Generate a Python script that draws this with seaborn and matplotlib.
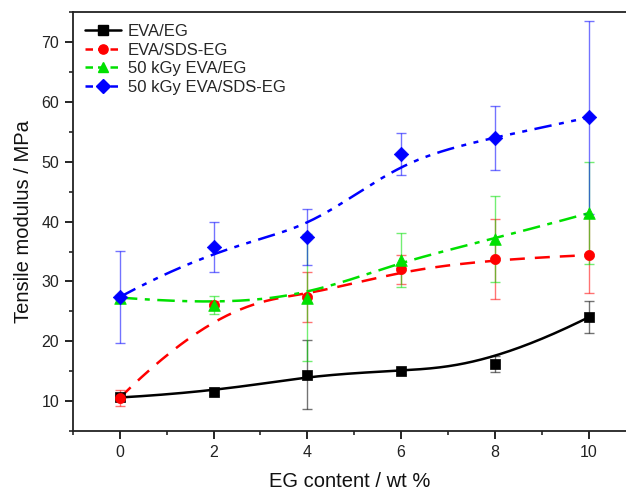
import numpy as np
import pandas as pd
import matplotlib
matplotlib.use("Agg")
import matplotlib.pyplot as plt
import seaborn as sns
from matplotlib.lines import Line2D
from matplotlib.ticker import MultipleLocator

# ---- data ----
eg_content = [0, 2, 4, 6, 8, 10]
eva_eg = [10.6, 11.5, 14.4, 15.0, 16.2, 24.0]
eva_eg_err = [0.3, 0.5, 5.8, 0.4, 1.35, 2.65]
eva_sds = [10.55, 26.0, 27.4, 32.0, 33.7, 34.4]
eva_sds_err = [1.35, 0.8, 4.1, 2.5, 6.7, 6.4]
kgy_eva_eg = [27.3, 26.1, 27.3, 33.6, 37.1, 41.4]
kgy_eva_eg_err = [0.4, 1.5, 10.6, 4.5, 7.2, 8.5]
kgy_eva_sds = [27.4, 35.8, 37.4, 51.3, 54.0, 57.4]
kgy_eva_sds_err = [7.65, 4.2, 4.7, 3.5, 5.4, 16.1]

labels = ["EVA/EG", "EVA/SDS-EG", "50 kGy EVA/EG", "50 kGy EVA/SDS-EG"]
series = [eva_eg, eva_sds, kgy_eva_eg, kgy_eva_sds]
errors = [eva_eg_err, eva_sds_err, kgy_eva_eg_err, kgy_eva_sds_err]
colors = ["#000000", "#FF0000", "#00E000", "#0000FF"]
markers = ["s", "o", "^", "D"]
msizes = [7, 7, 8, 7]
dashes = [(None, None), (0, (6, 4)), (0, (7, 3, 2, 3)), (0, (7, 3, 2, 3, 2, 3))]


def bspline(xs, ys, k=3, n=300):
    P = np.column_stack([xs, ys]).astype(float)
    m = len(P)
    knots = np.concatenate([np.zeros(k), np.linspace(0, 1, m - k + 1), np.ones(k)])
    ts = np.linspace(0, 1, n)
    out = []
    for t in ts:
        if t >= 1:
            out.append(P[-1]); continue
        s = np.searchsorted(knots, t, side="right") - 1
        d = [P[j + s - k].copy() for j in range(k + 1)]
        for r in range(1, k + 1):
            for j in range(k, r - 1, -1):
                i = j + s - k
                a = (t - knots[i]) / (knots[i + k + 1 - r] - knots[i])
                d[j] = (1 - a) * d[j - 1] + a * d[j]
        out.append(d[k])
    out = np.array(out)
    return out[:, 0], out[:, 1]


sns.set_theme(style="ticks")
plt.rcParams["font.family"] = ["Liberation Sans", "DejaVu Sans"]

fig = plt.figure(figsize=(6.26, 4.92), dpi=100)
ax = fig.add_axes([0.1166, 0.124, 0.8834, 0.8512])

for lab, ys, err, c, mk, ms, ls in zip(labels, series, errors, colors, markers, msizes, dashes):
    sx, sy = bspline(eg_content, ys)
    df = pd.DataFrame({"x": sx, "y": sy})
    line_ls = "-" if ls[0] is None else ls
    sns.lineplot(data=df, x="x", y="y", ax=ax, color=c, lw=1.8, sort=False,
                 linestyle=line_ls, legend=False)
    ax.errorbar(eg_content, ys, yerr=err, fmt="none", ecolor=c, alpha=0.55,
                elinewidth=1, capsize=3.5, capthick=1)
    sns.scatterplot(x=eg_content, y=ys, ax=ax, marker=mk, s=ms ** 2 * 1.1,
                    color=c, edgecolor=c, linewidth=0.5, legend=False, zorder=5)

ax.set_xlim(-1, 10.8)
ax.set_ylim(5, 75)
ax.xaxis.set_major_locator(MultipleLocator(2))
ax.xaxis.set_minor_locator(MultipleLocator(1))
ax.yaxis.set_major_locator(MultipleLocator(10))
ax.yaxis.set_minor_locator(MultipleLocator(5))
ax.tick_params(which="major", direction="out", length=6, width=1.2, labelsize=11.5,
               colors="#000000", labelcolor="#222222", pad=4)
ax.tick_params(which="minor", direction="out", length=3, width=1.2)
for side in ["left", "bottom", "top"]:
    ax.spines[side].set_linewidth(1.3)
    ax.spines[side].set_color("#222222")
ax.spines["right"].set_visible(False)
ax.set_xticks([0, 2, 4, 6, 8, 10])

ax.set_xlabel("EG content / wt %", fontsize=14.5, labelpad=9, color="#111111")
ax.set_ylabel("Tensile modulus / MPa", fontsize=14.5, labelpad=6, color="#111111")

handles = []
for lab, c, mk, ms, ls in zip(labels, colors, markers, msizes, dashes):
    handles.append(Line2D([0], [0], color=c, lw=1.8,
                          linestyle="-" if ls[0] is None else (0, (3, 2)),
                          marker=mk, markersize=ms * 0.95, markerfacecolor=c,
                          markeredgecolor=c))
ax.legend(handles=handles, labels=labels, loc="upper left", frameon=False,
          fontsize=12, handlelength=2.2, handletextpad=0.4, labelspacing=0.22,
          borderaxespad=0.3, bbox_to_anchor=(0.0, 1.0))

fig.savefig("out.png", dpi=100)
